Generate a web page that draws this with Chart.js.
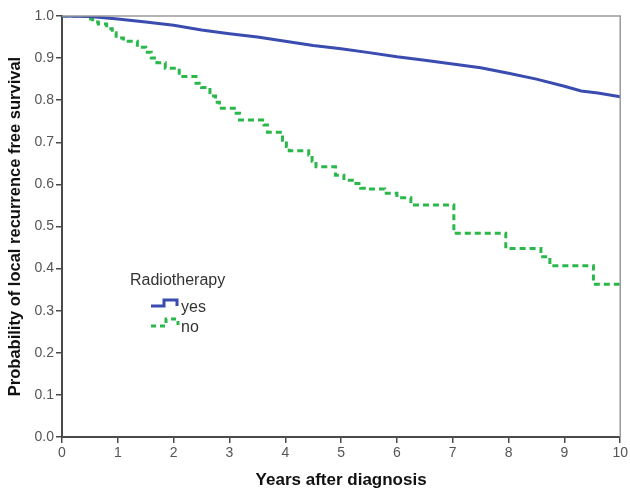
<!DOCTYPE html>
<html>
<head>
<meta charset="utf-8">
<script src="https://cdn.jsdelivr.net/npm/chart.js@4"></script>
<style>
  html, body { margin: 0; padding: 0; background: #fff; }
  #wrap { width: 630px; height: 491px; }
</style>
</head>
<body>
<div id="wrap"><canvas id="kmChart" width="630" height="491"></canvas></div>
<script>
// radiotherapy = yes
const yesYears = [0, 0.5, 1, 1.5, 2, 2.5, 3, 3.5, 4, 4.5, 5, 5.5, 6, 6.5, 7, 7.5, 8, 8.5, 9, 9.3, 9.6, 10];
const yesSurv  = [1.0, 0.999, 0.993, 0.986, 0.978, 0.967, 0.958, 0.95, 0.94, 0.93, 0.922, 0.913, 0.903, 0.895, 0.886, 0.877, 0.864, 0.85, 0.833, 0.822, 0.817, 0.808];

// radiotherapy = no (step after each event)
const noYears = [0, 0.45, 0.55, 0.65, 0.8, 0.9, 0.97, 1.1, 1.35, 1.5, 1.6, 1.7, 1.85, 2.1, 2.4, 2.5, 2.65, 2.75, 2.82, 3.12, 3.18, 3.62, 3.68, 3.95, 4.02, 4.07, 4.42, 4.48, 4.55, 4.9, 5.05, 5.2, 5.35, 5.45, 5.78, 6.0, 6.25, 7.02, 7.95, 8.58, 8.74, 9.52, 10];
const noSurv  = [1.0, 0.993, 0.986, 0.981, 0.97, 0.96, 0.948, 0.94, 0.926, 0.914, 0.9, 0.889, 0.876, 0.856, 0.84, 0.83, 0.81, 0.795, 0.781, 0.769, 0.753, 0.741, 0.724, 0.705, 0.69, 0.68, 0.67, 0.655, 0.642, 0.622, 0.61, 0.602, 0.591, 0.589, 0.579, 0.568, 0.551, 0.484, 0.448, 0.428, 0.407, 0.363, 0.363];

const xTicks = [0, 1, 2, 3, 4, 5, 6, 7, 8, 9, 10];
const legendTitle = 'Radiotherapy';
const groupNames = ['yes', 'no'];

const blue = '#3a4cb0';
const green = '#2bb84b';
const axisCol = '#4a4a4a';
const font = '"Liberation Sans", Arial, sans-serif';

const toPoints = (xs, ys) => xs.map((x, i) => ({ x: x, y: ys[i] }));

// frame (top/right) and the legend block
const extras = {
    id: 'extras',
    afterDraw(chart) {
        const c = chart.ctx;
        const a = chart.chartArea;
        c.save();
        c.strokeStyle = '#9a9a9a';
        c.lineWidth = 1.5;
        c.beginPath();
        c.moveTo(a.left, a.top);
        c.lineTo(a.right, a.top);
        c.lineTo(a.right, a.bottom);
        c.stroke();

        c.fillStyle = '#333';
        c.font = '16px ' + font;
        c.textBaseline = 'alphabetic';
        c.fillText(legendTitle, 130, 285);

        c.lineWidth = 3;
        c.strokeStyle = blue;
        c.beginPath();
        c.moveTo(151, 306);
        c.lineTo(164, 306);
        c.lineTo(164, 300);
        c.lineTo(177, 300);
        c.lineTo(177, 306);
        c.stroke();

        c.strokeStyle = green;
        c.setLineDash([5, 4]);
        c.beginPath();
        c.moveTo(151, 326);
        c.lineTo(166, 326);
        c.lineTo(166, 319);
        c.lineTo(178, 319);
        c.lineTo(178, 325);
        c.stroke();
        c.setLineDash([]);

        c.fillText(groupNames[0], 181, 312);
        c.fillText(groupNames[1], 181, 332);
        c.restore();
    }
};

const ctx = document.getElementById('kmChart').getContext('2d');
new Chart(ctx, {
    type: 'line',
    data: {
        datasets: [{
            label: groupNames[0],
            data: toPoints(yesYears, yesSurv),
            borderColor: blue,
            borderWidth: 3,
            pointRadius: 0,
            tension: 0
        }, {
            label: groupNames[1],
            data: toPoints(noYears, noSurv),
            borderColor: green,
            borderWidth: 3,
            borderDash: [6, 4],
            pointRadius: 0,
            stepped: 'before'
        }]
    },
    options: {
        responsive: false,
        animation: false,
        layout: { padding: { top: 16, right: 8, left: 0, bottom: 0 } },
        plugins: {
            legend: { display: false },
            tooltip: { enabled: false }
        },
        scales: {
            x: {
                type: 'linear',
                min: 0,
                max: 10,
                afterFit: s => { s.height = 54; },
                afterBuildTicks: s => { s.ticks = xTicks.map(v => ({ value: v })); },
                grid: { drawOnChartArea: false, color: axisCol, tickLength: 6, lineWidth: 1.5 },
                border: { color: axisCol, width: 2 },
                ticks: { color: '#555', font: { family: font, size: 14 }, padding: 2, maxRotation: 0 },
                title: {
                    display: true,
                    text: 'Years after diagnosis',
                    color: '#111',
                    font: { family: font, size: 17, weight: 'bold' },
                    padding: { top: 4, bottom: 0 }
                }
            },
            y: {
                min: 0,
                max: 1,
                afterFit: s => { s.width = 62; },
                grid: { drawOnChartArea: false, color: axisCol, tickLength: 6, lineWidth: 1.5 },
                border: { color: axisCol, width: 2 },
                ticks: {
                    stepSize: 0.1,
                    color: '#555',
                    font: { family: font, size: 14 },
                    padding: 2,
                    callback: v => v.toFixed(1)
                },
                title: {
                    display: true,
                    text: 'Probability of local recurrence free survival',
                    color: '#111',
                    font: { family: font, size: 16.5, weight: 'bold' },
                    padding: { top: 6, bottom: 4 }
                }
            }
        }
    },
    plugins: [extras]
});
</script>
</body>
</html>
